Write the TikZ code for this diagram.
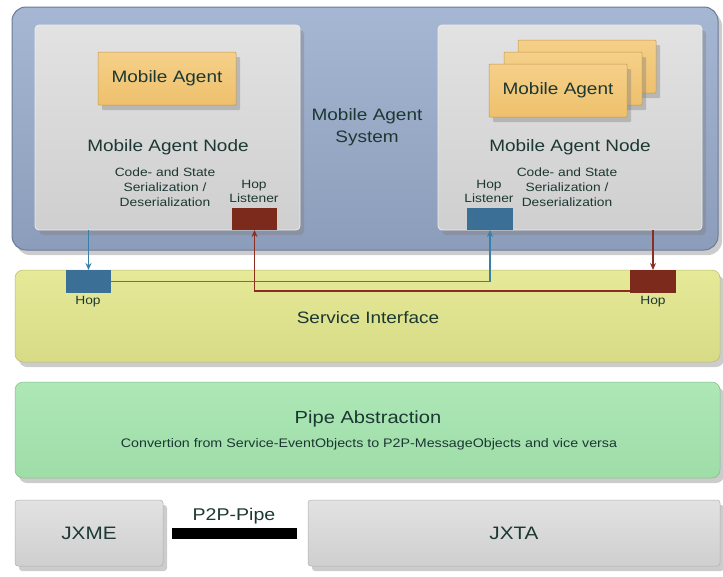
\documentclass[tikz,border=0pt]{standalone}
\usepackage{fontspec}
\setmainfont{Liberation Sans}[FakeStretch=1.15]
\usetikzlibrary{shadows,arrows.meta}
\definecolor{systop}{HTML}{A6B7D3}
\definecolor{sysbot}{HTML}{8C9DBB}
\definecolor{sysedge}{HTML}{6A7A98}
\definecolor{nodetop}{HTML}{E2E2E2}
\definecolor{nodebot}{HTML}{CFCFCF}
\definecolor{agenttop}{HTML}{F6D089}
\definecolor{agentbot}{HTML}{EDC06C}
\definecolor{servtop}{HTML}{E6EA98}
\definecolor{servbot}{HTML}{D7DB86}
\definecolor{pipetop}{HTML}{ADE8B6}
\definecolor{pipebot}{HTML}{9EDCA8}
\definecolor{hopblue}{HTML}{3C6F96}
\definecolor{hopred}{HTML}{7C2A1C}
\definecolor{linkblue}{HTML}{3A7FA6}
\definecolor{linkred}{HTML}{8A2E22}
\definecolor{txt}{HTML}{1C3832}
\begin{document}
\begin{tikzpicture}[x=1pt,y=-1pt,
  every node/.style={inner sep=0pt,outer sep=0pt,text=txt},
  panel/.style={anchor=north west,rounded corners=#1,
    drop shadow={opacity=0.4,shadow xshift=4pt,shadow yshift=-5pt}},
  panel/.default=6pt,
  sysbox/.style={panel=14pt,top color=systop,bottom color=sysbot,draw=sysedge,line width=1pt},
  nodebox/.style={panel=4pt,top color=nodetop,bottom color=nodebot,draw=white!85!gray,line width=0.8pt},
  agentbox/.style={panel=1pt,top color=agenttop,bottom color=agentbot,draw=agentbot!80!black,line width=0.5pt,
    minimum width=138pt,minimum height=53pt},
  servbox/.style={panel=8pt,top color=servtop,bottom color=servbot,draw=servbot!85!black,line width=0.5pt},
  pipebox/.style={panel=8pt,top color=pipetop,bottom color=pipebot,draw=pipebot!85!black,line width=0.5pt},
  graybox/.style={panel=3pt,top color=nodetop,bottom color=nodebot,draw=nodebot!85!black,line width=0.5pt},
  hopbox/.style={anchor=north west,fill=#1,minimum height=22pt},
  bluelink/.style={draw=linkblue,line width=1.6pt,-{Stealth[length=7pt,width=6pt]}},
  redlink/.style={draw=linkred,line width=1.6pt,-{Stealth[length=7pt,width=6pt]}},
  big/.style={font=\fontsize{16.5}{19}\selectfont},
  mid/.style={font=\fontsize{16.5}{22}\selectfont,align=center},
  small/.style={font=\fontsize{12}{15}\selectfont,align=center},
  tiny/.style={font=\fontsize{12}{14}\selectfont,align=center}
]
\useasboundingbox (0,0) rectangle (723,576);

% system
\node[sysbox,minimum width=706pt,minimum height=243pt] (sys) at (12,7) {};
\node[mid] (systxt) at (367,127) {Mobile Agent\\System};

% left node
\node[nodebox,minimum width=265pt,minimum height=205pt] (lnode) at (35,25) {};
\node[agentbox] (lagent) at (98,52) {};
\node[big] (lagenttxt) at (lagent.center) {Mobile Agent};
\node[big] (lnodetxt) at (168,147) {Mobile Agent Node};
\node[small] (lser) at (165,187) {Code- and State\\Serialization /\\Deserialization};
\node[tiny] (lhltxt) at (254,191) {Hop\\Listener};
\node[hopbox=hopred,minimum width=45pt] (lhl) at (232,208) {};

% right node
\node[nodebox,minimum width=264pt,minimum height=205pt] (rnode) at (438,25) {};
\node[agentbox] (ragent3) at (518,40) {};
\node[agentbox] (ragent2) at (504,52) {};
\node[agentbox] (ragent1) at (489,64) {};
\node[big] (ragenttxt) at (ragent1.center) {Mobile Agent};
\node[big] (rnodetxt) at (570,147) {Mobile Agent Node};
\node[small] (rser) at (567,187) {Code- and State\\Serialization /\\Deserialization};
\node[tiny] (rhltxt) at (489,191) {Hop\\Listener};
\node[hopbox=hopblue,minimum width=46pt] (rhl) at (467,208) {};

% service interface
\node[servbox,minimum width=705pt,minimum height=92pt] (serv) at (15,270) {};
\node[big] (servtxt) at (368,318) {Service Interface};
\node[hopbox=hopblue,minimum width=45pt,minimum height=23pt] (lhop) at (66,270) {};
\node[hopbox=hopred,minimum width=46pt,minimum height=23pt] (rhop) at (630,270) {};
\node[tiny] (lhoptxt) at (88,302) {Hop};
\node[tiny] (rhoptxt) at (653,302) {Hop};

% connectors
\draw[bluelink] (lhop.north |- lnode.south) -- (lhop.north);
\draw[bluelink] (lhop.east) -| (rhl.south);
\draw[redlink] (rhop.north |- rnode.south) -- (rhop.north);
\draw[redlink] ([yshift=2pt]rhop.south west) -| (lhl.south);

% pipe abstraction
\node[pipebox,minimum width=705pt,minimum height=96pt] (pipe) at (15,382) {};
\node[font=\fontsize{17.5}{20}\selectfont] (pipetxt) at (368,419) {Pipe Abstraction};
\node[font=\fontsize{12.4}{15}\selectfont] (pipesub) at (369,444) {Convertion from Service-EventObjects to P2P-MessageObjects and vice versa};

% bottom row
\node[graybox,minimum width=148pt,minimum height=66pt] (jxme) at (15,500) {};
\node[font=\fontsize{18}{20}\selectfont] (jxmetxt) at (jxme.center) {JXME};
\node[graybox,minimum width=412pt,minimum height=66pt] (jxta) at (308,500) {};
\node[font=\fontsize{18}{20}\selectfont] (jxtatxt) at (jxta.center) {JXTA};
\node[anchor=north west,fill=black,minimum width=125pt,minimum height=11pt] (bar) at (172,528) {};
\node[font=\fontsize{17}{18}\selectfont] (bartxt) at (234,516) {P2P-Pipe};
\end{tikzpicture}
\end{document}
